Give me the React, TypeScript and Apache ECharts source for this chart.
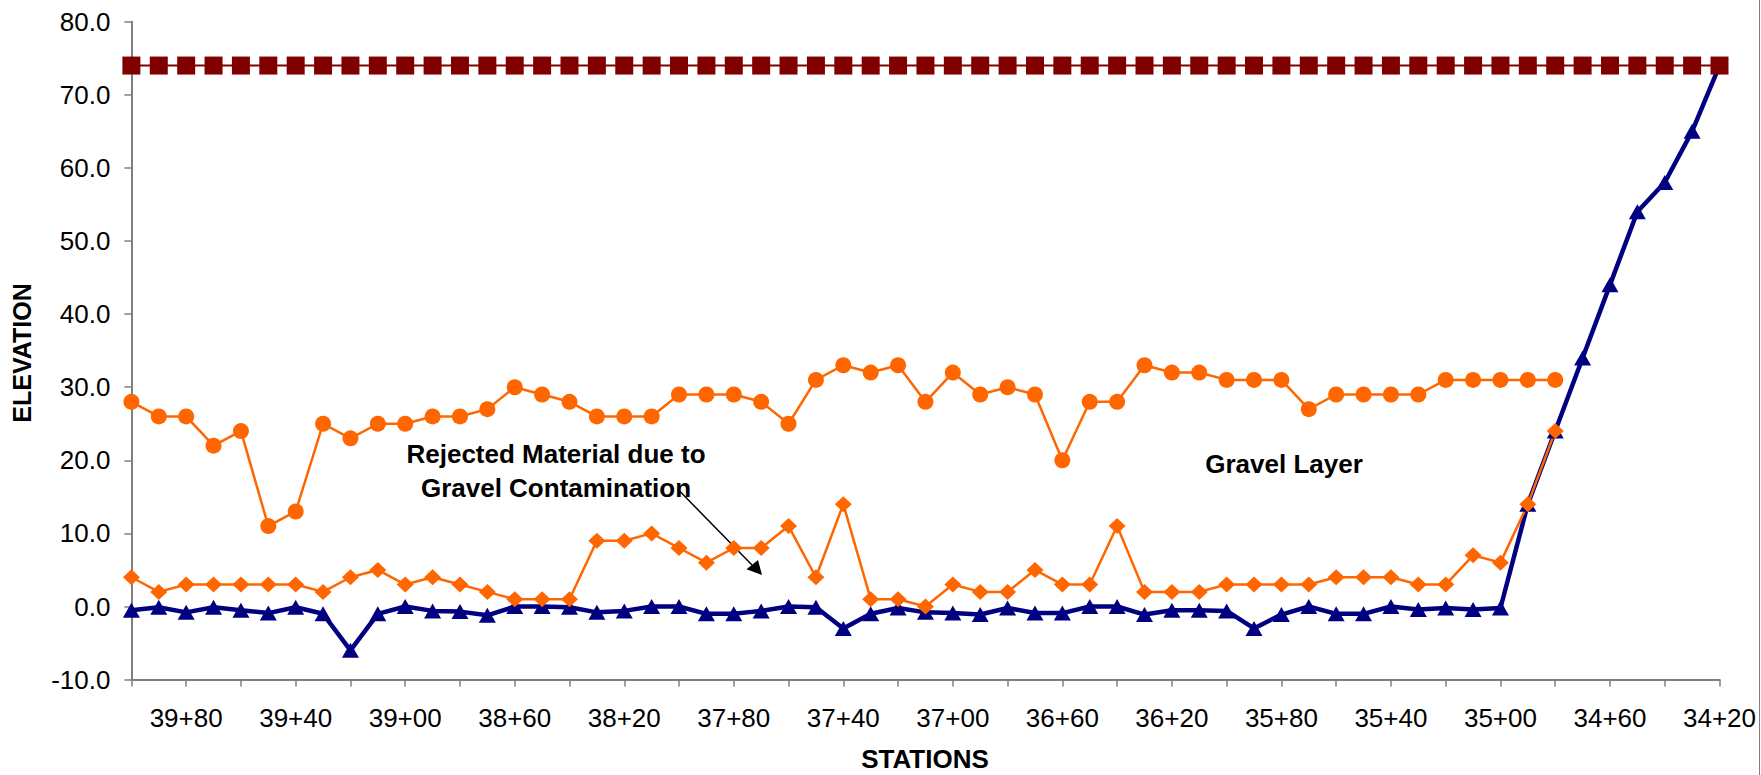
import React, { useEffect, useRef } from "react";
import * as echarts from "echarts";

const stations = [
  "40+00", "39+90", "39+80", "39+70", "39+60", "39+50", "39+40", "39+30", "39+20", "39+10",
  "39+00", "38+90", "38+80", "38+70", "38+60", "38+50", "38+40", "38+30", "38+20", "38+10",
  "38+00", "37+90", "37+80", "37+70", "37+60", "37+50", "37+40", "37+30", "37+20", "37+10",
  "37+00", "36+90", "36+80", "36+70", "36+60", "36+50", "36+40", "36+30", "36+20", "36+10",
  "36+00", "35+90", "35+80", "35+70", "35+60", "35+50", "35+40", "35+30", "35+20", "35+10",
  "35+00", "34+90", "34+80", "34+70", "34+60", "34+50", "34+40", "34+30", "34+20",
];

// Upper orange line (circles)
const gravelTop = [
  28, 26, 26, 22, 24, 11, 13, 25, 23, 25,
  25, 26, 26, 27, 30, 29, 28, 26, 26, 26,
  29, 29, 29, 28, 25, 31, 33, 32, 33, 28,
  32, 29, 30, 29, 20, 28, 28, 33, 32, 32,
  31, 31, 31, 27, 29, 29, 29, 29, 31, 31,
  31, 31, 31, null, null, null, null, null, null,
];

// Lower orange line (diamonds)
const gravelBottom = [
  4, 2, 3, 3, 3, 3, 3, 2, 4, 5,
  3, 4, 3, 2, 1, 1, 1, 9, 9, 10,
  8, 6, 8, 8, 11, 4, 14, 1, 1, 0,
  3, 2, 2, 5, 3, 3, 11, 2, 2, 2,
  3, 3, 3, 3, 4, 4, 4, 3, 3, 7,
  6, 14, 24, null, null, null, null, null, null,
];

// Navy line (triangles)
const baseLine = [
  -0.5, -0.1, -0.8, -0.1, -0.5, -0.9, -0.1, -1.0, -6.0, -1.0,
  0, -0.6, -0.7, -1.2, 0, 0, -0.1, -0.8, -0.6, 0,
  0, -1.0, -1.0, -0.6, 0, -0.1, -3.0, -1.0, -0.2, -0.8,
  -0.9, -1.1, -0.2, -0.9, -0.9, 0, 0, -1.1, -0.5, -0.5,
  -0.6, -3.0, -1.1, 0, -1.0, -1.0, 0, -0.4, -0.2, -0.4,
  -0.2, 14, 24, 34, 44, 54, 58, 65, 74,
];

// Dark red line (squares)
const surfaceLine = [
  74, 74, 74, 74, 74, 74, 74, 74, 74, 74,
  74, 74, 74, 74, 74, 74, 74, 74, 74, 74,
  74, 74, 74, 74, 74, 74, 74, 74, 74, 74,
  74, 74, 74, 74, 74, 74, 74, 74, 74, 74,
  74, 74, 74, 74, 74, 74, 74, 74, 74, 74,
  74, 74, 74, 74, 74, 74, 74, 74, 74,
];

const yMin = -10;
const yMax = 80;
const yStep = 10;

const FONT = "Arial, 'Liberation Sans', Helvetica, sans-serif";

export default function App() {
  const ref = useRef<HTMLDivElement>(null);

  useEffect(() => {
    if (!ref.current) return;
    const chart = echarts.init(ref.current, null, { renderer: "svg" });
    const axisColor = "#7f7f7f";
    const boldText = (text: string, x: number, y: number, size: number, extra: any = {}) => ({
      type: "text",
      x,
      y,
      ...extra,
      style: {
        text,
        fontSize: size,
        fontWeight: "bold",
        fontFamily: FONT,
        fill: "#000",
        textAlign: "center",
        textVerticalAlign: "middle",
      },
    });
    chart.setOption({
      animation: false,
      backgroundColor: "#ffffff",
      grid: {
        left: 131.4,
        right: 41.5,
        top: 21.7,
        bottom: 95.4,
        containLabel: false,
        outerBoundsMode: "none",
      },
      xAxis: {
        type: "category",
        data: stations,
        boundaryGap: false,
        axisLine: { onZero: false, lineStyle: { color: axisColor, width: 2 } },
        axisTick: {
          interval: (i: number) => i % 2 === 0,
          length: 7,
          lineStyle: { color: axisColor, width: 1.5 },
        },
        axisLabel: {
          interval: (i: number) => i % 4 === 2,
          margin: 25,
          fontSize: 26,
          fontFamily: FONT,
          color: "#000",
        },
        splitLine: { show: false },
      },
      yAxis: {
        type: "value",
        min: yMin,
        max: yMax,
        interval: yStep,
        axisLine: { show: true, lineStyle: { color: axisColor, width: 2 } },
        axisTick: { show: true, length: 7, lineStyle: { color: axisColor, width: 1.5 } },
        axisLabel: {
          margin: 21,
          fontSize: 26,
          fontFamily: FONT,
          color: "#000",
          formatter: (v: number) => v.toFixed(1),
        },
        splitLine: { show: false },
      },
      series: [
        {
          type: "line",
          data: baseLine,
          symbol: "triangle",
          symbolSize: [17, 15],
          showAllSymbol: true,
          itemStyle: { color: "#000080" },
          lineStyle: { color: "#000080", width: 4.5 },
        },
        {
          type: "line",
          data: gravelBottom,
          symbol: "diamond",
          symbolSize: [17, 16],
          showAllSymbol: true,
          connectNulls: false,
          itemStyle: { color: "#FF6600" },
          lineStyle: { color: "#FF6600", width: 2.5 },
        },
        {
          type: "line",
          data: gravelTop,
          symbol: "circle",
          symbolSize: 16,
          showAllSymbol: true,
          connectNulls: false,
          itemStyle: { color: "#FF6600" },
          lineStyle: { color: "#FF6600", width: 2.5 },
        },
        {
          type: "line",
          data: surfaceLine,
          symbol: "rect",
          symbolSize: 18,
          showAllSymbol: true,
          itemStyle: { color: "#800000" },
          lineStyle: { color: "#800000", width: 2 },
        },
      ],
      graphic: [
        boldText("ELEVATION", 22, 353, 25, { rotation: Math.PI / 2 }),
        boldText("STATIONS", 925, 759, 26),
        boldText("Rejected Material due to", 556, 454, 26),
        boldText("Gravel Contamination", 556, 488, 26),
        boldText("Gravel Layer", 1284, 464, 26),
        {
          type: "line",
          shape: { x1: 677.6, y1: 489, x2: 752, y2: 565 },
          style: { stroke: "#000", lineWidth: 1.5 },
        },
        {
          type: "polygon",
          shape: { points: [[762, 575], [746.5, 569.3], [758, 560]] },
          style: { fill: "#000" },
        },
        {
          type: "line",
          shape: { x1: 1759.5, y1: 0, x2: 1759.5, y2: 775 },
          style: { stroke: "#808080", lineWidth: 1 },
        },
      ],
    });
    return () => chart.dispose();
  }, []);

  return (
    <div
      ref={ref}
      style={{ position: "fixed", left: 0, top: 0, width: 1761, height: 775, background: "#fff" }}
    />
  );
}
